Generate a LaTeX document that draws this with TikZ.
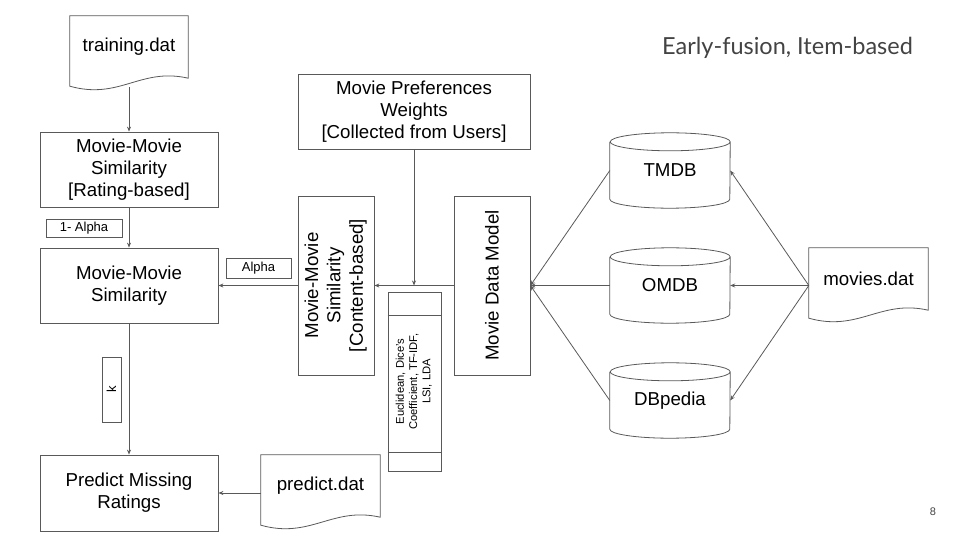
\documentclass[tikz,border=0pt]{standalone}
\usepackage{fontspec}
\setmainfont{Liberation Sans}
\newfontfamily\titlefont{Lato}
\usetikzlibrary{arrows.meta,calc}
\definecolor{ln}{HTML}{595959}
\definecolor{tg}{HTML}{434343}
\tikzset{
  line/.style={draw=ln, line width=0.8pt},
  arr/.style={line, -{Stealth[length=5pt,width=4pt]}},
  bigfont/.style={font=\fontsize{18.7}{22.3}\selectfont},
  box/.style={line, rectangle, inner sep=0pt, align=center, bigfont},
  smallbox/.style={line, rectangle, inner sep=0pt, align=center, font=\fontsize{13}{15}\selectfont},
  plain/.style={rectangle, inner sep=0pt, align=center, bigfont},
}
\newcommand\docshape[1]{\draw[line] (#1.north west) -- (#1.north east) -- (#1.south east)
  .. controls +(-48,-11) and +(50,14) .. ([yshift=-8pt]#1.south west) -- cycle;}
\newcommand\cylshape[1]{\draw[line] (#1.north west) -- (#1.south west)
  arc[start angle=180,end angle=360,x radius=60pt,y radius=9pt] -- (#1.north east)
  arc[start angle=0,end angle=360,x radius=60pt,y radius=9pt];}
\begin{document}
\begin{tikzpicture}[x=1pt,y=-1pt]
\useasboundingbox (0,0) rectangle (960,540);

% title and page number
\node[anchor=base east, font=\titlefont\fontsize{23.5}{27}\selectfont, text=tg, inner sep=0pt] (title) at (913,55) {Early-fusion, Item-based};
\node[font=\fontsize{11}{13}\selectfont, text=tg, inner sep=0pt] (pnum) at (933,512) {8};

% left column
\node[plain, minimum width=118, minimum height=62] (train) at (129,47) {training.dat};
\docshape{train}
\node[box, minimum width=178, minimum height=75] (rating) at (129,169.5) {Movie-Movie\\Similarity\\{}[Rating-based]};
\node[smallbox, minimum width=76, minimum height=18] (oneal) at (84,228) {1- Alpha};
\node[box, minimum width=178, minimum height=75] (mms) at (129,285.5) {Movie-Movie\\Similarity};
\node[smallbox, minimum width=65, minimum height=20] (alpha) at (258.5,268) {Alpha};
\node[smallbox, minimum width=19, minimum height=65] (kbox) at (111.5,389.5) {\rotatebox{90}{k}};
\node[box, minimum width=178, minimum height=76] (pred) at (129,493) {Predict Missing\\Ratings};
\node[plain, minimum width=119, minimum height=62] (pdat) at (320.5,486) {predict.dat};
\docshape{pdat}

% middle
\node[box, minimum width=232, minimum height=75] (pref) at (414,111.5) {Movie Preferences\\Weights\\{}[Collected from Users]};
\node[box, minimum width=76, minimum height=179] (cont) at (336,285.5)
  {\rotatebox{90}{\begin{tabular}{@{}c@{}}Movie-Movie\\Similarity\\{}[Content-based]\end{tabular}}};
\node[line, rectangle, inner sep=0pt, minimum width=53, minimum height=179, font=\fontsize{11.2}{13.2}\selectfont] (eucl) at (414.5,381.5)
  {\raisebox{-5pt}{\rotatebox{90}{\begin{tabular}{@{}c@{}}Euclidean, Dice's\\Coefficient, TF-IDF,\\LSI, LDA\end{tabular}}}};
\draw[line] ([yshift=-24pt]eucl.north west) -- ([yshift=-24pt]eucl.north east);
\draw[line] ([yshift=19pt]eucl.south west) -- ([yshift=19pt]eucl.south east);
\node[box, minimum width=76, minimum height=179] (dm) at (492,285.5) {\rotatebox{90}{Movie Data Model}};

% databases
\node[plain, minimum width=120, minimum height=57] (tmdb) at (670,170.5) {\raisebox{-5pt}{TMDB}};
\cylshape{tmdb}
\node[plain, minimum width=120, minimum height=57] (omdb) at (670,285.5) {\raisebox{-5pt}{OMDB}};
\cylshape{omdb}
\node[plain, minimum width=120, minimum height=57] (dbp) at (670,400.5) {\raisebox{-5pt}{DBpedia}};
\cylshape{dbp}
\node[plain, minimum width=119, minimum height=62] (mdat) at (868.5,279) {movies.dat};
\docshape{mdat}
\coordinate (ms) at (mdat.west |- omdb.east);

% connectors
\draw[arr] ([yshift=-9pt]train.south) -- (rating.north);
\draw[arr] (rating.south) -- (mms.north);
\draw[arr] (mms.south) -- (pred.north);
\draw[arr] (pdat.west |- pred.east) -- (pred.east);
\draw[arr] (cont.west) -- (mms.east);
\draw[arr] (dm.west) -- (cont.east);
\draw[arr] (pref.south) -- (pref.south |- dm.west);
\draw[arr] (ms) -- (tmdb.east);
\draw[arr] (ms) -- (omdb.east);
\draw[arr] (ms) -- (dbp.east);
\draw[arr] (tmdb.west) -- (dm.east);
\draw[arr] (omdb.west) -- (dm.east);
\draw[arr] (dbp.west) -- (dm.east);
\end{tikzpicture}
\end{document}
